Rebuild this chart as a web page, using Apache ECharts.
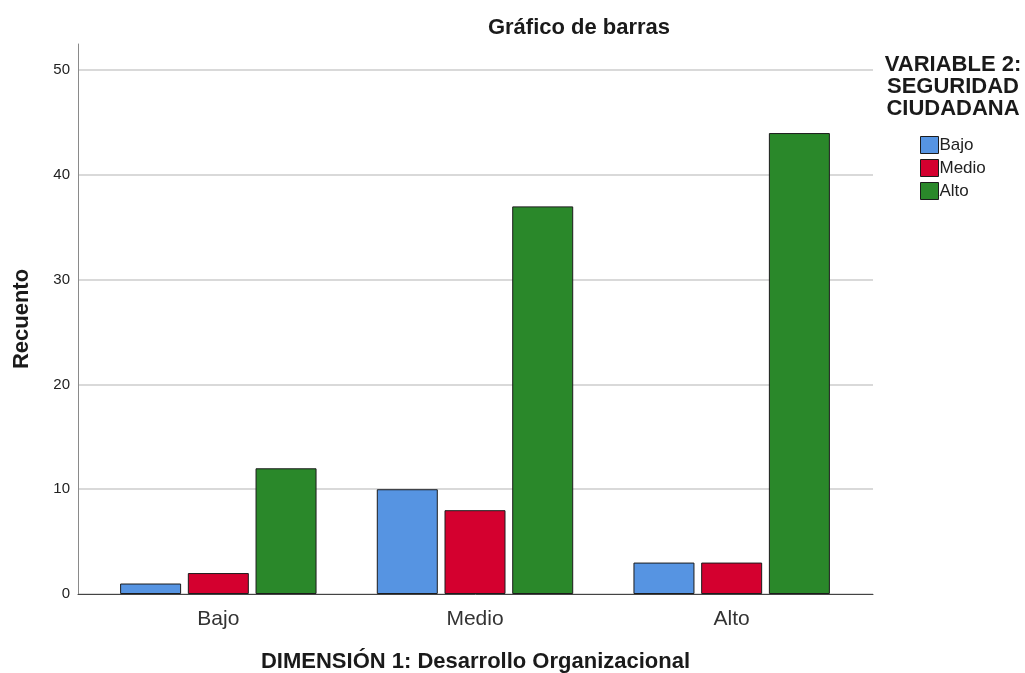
<!DOCTYPE html>
<html>
<head>
<meta charset="UTF-8">
<title>Gráfico de barras</title>
<script type="text/javascript" src="https://cdn.jsdelivr.net/npm/echarts@6/dist/echarts.min.js"></script>
<style>
  html, body { margin: 0; padding: 0; background: #fff; }
  #main { width: 1025px; height: 673px; }
</style>
</head>
<body>
<div id="main"></div>
<script type="text/javascript">
    // datos
    var categorias = ['Bajo', 'Medio', 'Alto'];
    var niveles = ['Bajo', 'Medio', 'Alto'];
    var bajo = [1, 10, 3];
    var medio = [2, 8, 3];
    var alto = [12, 37, 44];
    var colores = ['#5694e2', '#d4002f', '#2a882a'];

    var fuente = 'Arial, "Liberation Sans", sans-serif';
    var yMax = 52.5;

    var myChart = echarts.init(document.getElementById('main'));

    var valores = [bajo, medio, alto];
    var series = niveles.map(function (n, i) {
        return {
            name: n,
            type: 'bar',
            xAxisIndex: 1,
            yAxisIndex: 1,
            data: valores[i],
            barWidth: 61,
            barGap: '11%',
            itemStyle: { color: colores[i], borderColor: '#1c1c1c', borderWidth: 1 }
        };
    });

    option = {
        animation: false,
        textStyle: { fontFamily: fuente },
        title: [{
            text: 'Gráfico de barras',
            left: 574, top: 12, textAlign: 'center',
            textStyle: { fontSize: 22, fontWeight: 'bold', color: '#1a1a1a', fontFamily: fuente }
        }, {
            text: 'VARIABLE 2:\nSEGURIDAD\nCIUDADANA',
            left: 948, top: 49, textAlign: 'center',
            textStyle: { fontSize: 22, fontWeight: 'bold', color: '#1a1a1a', lineHeight: 22, fontFamily: fuente, align: 'center' }
        }],
        legend: {
            orient: 'vertical',
            left: 915, top: 131,
            itemWidth: 18, itemHeight: 17, itemGap: 5,
            icon: 'rect',
            itemStyle: { borderColor: '#1c1c1c', borderWidth: 1 },
            textStyle: { fontSize: 17, color: '#222', padding: [0, 0, 0, -4], fontFamily: fuente },
            data: niveles
        },
        grid: [
            { left: 78, right: 152, top: 44, bottom: 79, outerBoundsMode: 'none', containLabel: false },
            { left: 90, right: 165, top: 44, bottom: 79, outerBoundsMode: 'none', containLabel: false }
        ],
        xAxis: [{
            type: 'category', gridIndex: 0, data: [''],
            axisLine: { lineStyle: { color: '#444' } },
            axisTick: { show: false }, axisLabel: { show: false },
            name: 'DIMENSIÓN 1: Desarrollo Organizacional',
            nameLocation: 'middle', nameGap: 57,
            nameTextStyle: { fontSize: 22, fontWeight: 'bold', color: '#1a1a1a' }
        }, {
            type: 'category', gridIndex: 1, data: categorias,
            axisLine: { show: false }, axisTick: { show: false },
            axisLabel: { fontSize: 21, color: '#333', margin: 15 }
        }],
        yAxis: [{
            type: 'value', gridIndex: 0, min: 0, max: yMax, interval: 10,
            axisLine: { show: true, lineStyle: { color: '#8a8a8a' } },
            axisTick: { show: false },
            splitLine: { showMaxLine: false, lineStyle: { color: '#cccccc', width: 1.5 } },
            axisLabel: {
                fontSize: 15, color: '#222', margin: 8,
                showMaxLabel: false
            },
            name: 'Recuento', nameLocation: 'middle', nameGap: 45,
            nameTextStyle: { fontSize: 22, fontWeight: 'bold', color: '#1a1a1a' }
        }, {
            type: 'value', gridIndex: 1, min: 0, max: yMax, interval: 10,
            axisLine: { show: false }, axisTick: { show: false },
            axisLabel: { show: false }, splitLine: { show: false }
        }],
        series: series
    };

    myChart.setOption(option);
</script>
</body>
</html>
